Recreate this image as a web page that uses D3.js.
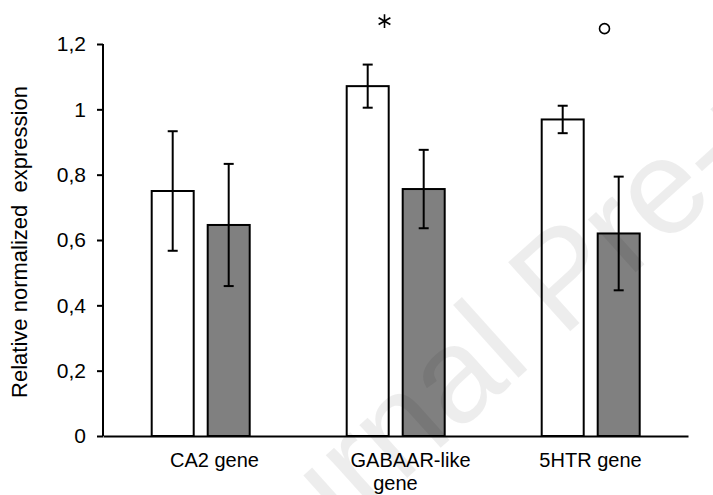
<!DOCTYPE html>
<html>
<head>
<meta charset="utf-8">
<script src="https://cdn.jsdelivr.net/npm/d3@7/dist/d3.min.js"></script>
<style>
  body { margin: 0; background: #fff; }
  text { font-family: Arial, "Liberation Sans", sans-serif; }
</style>
</head>
<body>
<div id="viz"></div>
<script>

let genes = ['CA2 gene', 'GABAAR-like gene', '5HTR gene'],
    geneLines = [['CA2 gene'], ['GABAAR-like', 'gene'], ['5HTR gene']],
    series = ['control', 'treated'],
    controlMean = [0.750, 1.071, 0.969],
    controlErr = [0.183, 0.066, 0.042],
    treatedMean = [0.646, 0.756, 0.620],
    treatedErr = [0.187, 0.120, 0.174],
    yTicks = [0, 0.2, 0.4, 0.6, 0.8, 1, 1.2],
    marks = [
      { gene: 'GABAAR-like gene', symbol: 'asterisk', value: 1.27 },
      { gene: '5HTR gene', symbol: 'circle', value: 1.247 }
    ];

let width = 713,
    height = 495,
    margin = { top: 44, right: 25, bottom: 59, left: 103 };

let rows = [];
genes.forEach(function(g, i) {
  rows.push({ gene: g, s: 'control', v: controlMean[i], e: controlErr[i] });
  rows.push({ gene: g, s: 'treated', v: treatedMean[i], e: treatedErr[i] });
});

let svg = d3.select('#viz').append('svg')
  .attr('width', width)
  .attr('height', height);

svg.append('rect')
  .attr('width', width)
  .attr('height', height)
  .attr('fill', '#fff');

let yScale = d3.scaleLinear()
  .domain([0, 1.2])
  .range([height - margin.bottom, margin.top]);

let x0 = d3.scaleBand()
  .domain(genes)
  .range([margin.left, width - margin.right])
  .padding(0);

let x1 = d3.scaleBand()
  .domain(series)
  .range([48.7, 146.7])
  .paddingInner(0.25)
  .paddingOuter(0);

let fills = d3.scaleOrdinal()
  .domain(series)
  .range(['#ffffff', '#808080']);

// bars
svg.append('g')
  .selectAll('rect').data(rows)
  .enter().append('rect')
  .attr('x', function(d) { return x0(d.gene) + x1(d.s); })
  .attr('y', function(d) { return yScale(d.v); })
  .attr('width', x1.bandwidth())
  .attr('height', function(d) { return yScale(0) - yScale(d.v); })
  .attr('fill', function(d) { return fills(d.s); })
  .attr('stroke', '#000')
  .attr('stroke-width', 2);

// error bars
let eb = svg.append('g')
  .attr('stroke', '#000')
  .attr('stroke-width', 2)
  .selectAll('g').data(rows)
  .enter().append('g')
  .attr('transform', function(d) {
    return 'translate(' + (x0(d.gene) + x1(d.s) + x1.bandwidth() / 2) + ',0)';
  });

eb.append('line')
  .attr('y1', function(d) { return yScale(d.v + d.e); })
  .attr('y2', function(d) { return yScale(d.v - d.e); });

eb.append('line')
  .attr('x1', -5).attr('x2', 5)
  .attr('y1', function(d) { return yScale(d.v + d.e); })
  .attr('y2', function(d) { return yScale(d.v + d.e); });

eb.append('line')
  .attr('x1', -5).attr('x2', 5)
  .attr('y1', function(d) { return yScale(d.v - d.e); })
  .attr('y2', function(d) { return yScale(d.v - d.e); });

// y axis
let yGuide = svg.append('g')
  .attr('transform', 'translate(' + margin.left + ',0)')
  .call(d3.axisLeft(yScale)
    .tickValues(yTicks)
    .tickSize(6)
    .tickPadding(11)
    .tickFormat(function(d) { return String(d).replace('.', ','); }));

yGuide.select('.domain').attr('stroke-width', 2).attr('d',
  'M0,' + yScale(1.2) + 'V' + yScale(0));
yGuide.selectAll('.tick line').attr('stroke-width', 2);
yGuide.selectAll('.tick text')
  .attr('font-size', 21)
  .attr('font-family', 'Arial, "Liberation Sans", sans-serif')
  .attr('fill', '#000');

// x axis
let xGuide = svg.append('g')
  .attr('transform', 'translate(0,' + yScale(0) + ')')
  .call(d3.axisBottom(x0).tickSize(0).tickPadding(17));

xGuide.select('.domain').attr('stroke-width', 2);
xGuide.selectAll('.tick text')
  .attr('font-size', 20)
  .attr('font-family', 'Arial, "Liberation Sans", sans-serif')
  .attr('fill', '#000')
  .text(null)
  .each(function(d, i) {
    let t = d3.select(this);
    let shift = [14, 15, 0][i];
    geneLines[i].forEach(function(line, j) {
      t.append('tspan')
        .attr('x', j === 0 ? shift : 0)
        .attr('dy', j === 0 ? '0.71em' : '1.15em')
        .text(line);
    });
  });

// axis title
svg.append('text')
  .attr('transform', 'translate(27,242) rotate(-90)')
  .attr('text-anchor', 'middle')
  .attr('font-size', 22)
  .attr('fill', '#000')
  .style('white-space', 'pre')
  .text('Relative normalized  expression');

// significance marks
let markOffset = { asterisk: -11, circle: 14 };
svg.append('g').selectAll('path').data(marks)
  .enter().append('path')
  .attr('transform', function(d) {
    return 'translate(' + (x0(d.gene) + x0.bandwidth() / 2 + markOffset[d.symbol]) + ',' + yScale(d.value) + ')';
  })
  .attr('d', function(d) {
    return d.symbol === 'asterisk'
      ? d3.symbol(d3.symbolAsterisk).size(130)()
      : d3.symbol(d3.symbolCircle).size(78)();
  })
  .attr('fill', 'none')
  .attr('stroke', '#000')
  .attr('stroke-width', 1.6);

// watermark
svg.append('text')
  .attr('transform', 'translate(205,660) rotate(-42)')
  .attr('font-size', 135)
  .attr('fill', '#000')
  .attr('fill-opacity', 0.07)
  .text('Journal Pre-proof');

</script>
</body>
</html>
